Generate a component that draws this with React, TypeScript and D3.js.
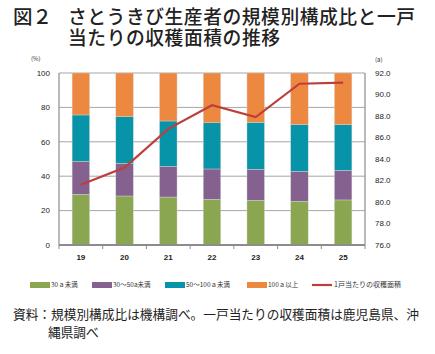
import * as d3 from 'd3';

const years = ['19', '20', '21', '22', '23', '24', '25'];
const under30 = [29.5, 28.5, 27.9, 26.6, 26.0, 25.4, 26.2];
const from30to50 = [19.1, 19.0, 17.8, 17.6, 18.0, 17.4, 17.2];
const from50to100 = [27.0, 27.1, 26.4, 26.9, 27.3, 27.2, 26.6];
const over100 = [24.4, 25.4, 27.9, 28.9, 28.7, 30.0, 30.0];
const areaPerFarm = [81.6, 83.2, 86.8, 89.0, 87.9, 91.0, 91.1];

const leftTicks = [0, 20, 40, 60, 80, 100];
const rightTicks = [76, 78, 80, 82, 84, 86, 88, 90, 92];

const seriesNames = ['30ａ未満', '30～50a未満', '50～100ａ未満', '100ａ以上'];
const colors = ['#8ba650', '#84618f', '#0793a8', '#ed8841'];
const lineName = '1戸当たりの収穫面積';
const lineColor = '#be3f3a';

const FONT = '"Noto Sans CJK JP", "Noto Sans", sans-serif';
// latin font first keeps the line box tight, CJK glyphs fall back to Noto
const TITLE_FONT = '"Liberation Sans", "Noto Sans CJK JP", sans-serif';

export default function App() {
  const margin = { left: 59, right: 70, top: 73, bottom: 109 };
  const W = 435;
  const H = 354;
  const innerW = W - margin.left - margin.right;
  const innerH = H - margin.top - margin.bottom;

  const x = d3.scaleBand().domain(years).range([0, innerW]).paddingInner(0.6).paddingOuter(0.3);
  const band = innerW / years.length;
  const y = d3.scaleLinear().domain([0, 100]).range([innerH, 0]);
  const y2 = d3.scaleLinear().domain([76, 92]).range([innerH, 0]);

  const rows = years.map((yr, i) => ({
    year: yr,
    s0: under30[i],
    s1: from30to50[i],
    s2: from50to100[i],
    s3: over100[i],
  }));
  const stacked = d3.stack<any>().keys(['s0', 's1', 's2', 's3'])(rows);

  const line = d3
    .line<number>()
    .x((_, i) => (x(years[i]) as number) + x.bandwidth() / 2)
    .y((d) => y2(d));

  // legend items
  const legendItems = [
    { label: seriesNames[0], color: colors[0], x: 30 },
    { label: seriesNames[1], color: colors[1], x: 92 },
    { label: seriesNames[2], color: colors[2], x: 165 },
    { label: seriesNames[3], color: colors[3], x: 247 },
  ];

  return (
    <svg width={W} height={H} style={{ position: 'absolute', left: 0, top: 0, background: '#fff' }} fontFamily={FONT}>
      <text x={13} y={24} fontSize={19.5} fill="#222" fontWeight={500} fontFamily={TITLE_FONT}>図２</text>
      <text x={68} y={24} fontSize={18.8} fill="#222" fontWeight={500} fontFamily={TITLE_FONT} textLength={347} lengthAdjust="spacing">
        さとうきび生産者の規模別構成比と一戸
      </text>
      <text x={68} y={45} fontSize={18.8} fill="#222" fontWeight={500} fontFamily={TITLE_FONT} textLength={212} lengthAdjust="spacing">
        当たりの収穫面積の推移
      </text>

      <text x={31} y={61} fontSize={6} fill="#333">(%)</text>
      <text x={375} y={62} fontSize={6} fill="#333">(a)</text>

      <g transform={`translate(${margin.left},${margin.top})`}>
        {leftTicks.map((t) => (
          <g key={t}>
            {t > 0 && <line x1={0} x2={innerW} y1={y(t)} y2={y(t)} stroke="#a6a6a6" strokeWidth={1} />}
            <text x={-9} y={y(t)} dy="0.35em" textAnchor="end" fontSize={8} fill="#222" fontFamily="Arial, 'Liberation Sans', sans-serif">
              {t}
            </text>
          </g>
        ))}
        {rightTicks.map((t) => (
          <text key={t} x={innerW + 10} y={y2(t)} dy="0.35em" fontSize={8} fill="#222" fontFamily="Arial, 'Liberation Sans', sans-serif">
            {t.toFixed(1)}
          </text>
        ))}

        {stacked.map((s, si) => (
          <g key={si}>
            {s.map((d, i) => (
              <rect
                key={i}
                x={x(years[i]) as number}
                y={y(d[1])}
                width={x.bandwidth()}
                height={y(d[0]) - y(d[1])}
                fill={colors[si]}
                stroke="#d8d8d8"
                strokeWidth={0.4}
              />
            ))}
          </g>
        ))}

        <line x1={0} x2={0} y1={0} y2={innerH} stroke="#8c8c8c" strokeWidth={1.2} />
        <line x1={innerW} x2={innerW} y1={0} y2={innerH} stroke="#8c8c8c" strokeWidth={1.2} />
        <line x1={0} x2={innerW} y1={innerH} y2={innerH} stroke="#8c8c8c" strokeWidth={2} />
        {years.map((_, i) => (
          <line key={i} x1={band * i} x2={band * i} y1={innerH} y2={innerH + 4} stroke="#8c8c8c" strokeWidth={1} />
        ))}
        <line x1={innerW} x2={innerW} y1={innerH} y2={innerH + 4} stroke="#8c8c8c" strokeWidth={1} />

        <path d={line(areaPerFarm) || ''} fill="none" stroke={lineColor} strokeWidth={2.2} />

        {years.map((yr) => (
          <text
            key={yr}
            x={(x(yr) as number) + x.bandwidth() / 2}
            y={innerH + 15}
            textAnchor="middle"
            fontSize={8}
            fontWeight="bold"
            fill="#222"
            fontFamily="Arial, 'Liberation Sans', sans-serif"
          >
            {yr}
          </text>
        ))}
      </g>

      {legendItems.map((it) => (
        <g key={it.label}>
          <rect x={it.x} y={282} width={20} height={6} fill={it.color} />
          <text x={it.x + 21} y={285} dy="0.35em" fontSize={6.5} fill="#333">
            {it.label}
          </text>
        </g>
      ))}
      <line x1={312} x2={332} y1={285} y2={285} stroke={lineColor} strokeWidth={2.2} />
      <text x={334} y={285} dy="0.35em" fontSize={7} fill="#333">{lineName}</text>

      <text x={13} y={319} fontSize={12.7} fill="#222">資料：規模別構成比は機構調べ。一戸当たりの収穫面積は鹿児島県、沖</text>
      <text x={48} y={337} fontSize={12.7} fill="#222">縄県調べ</text>
    </svg>
  );
}
